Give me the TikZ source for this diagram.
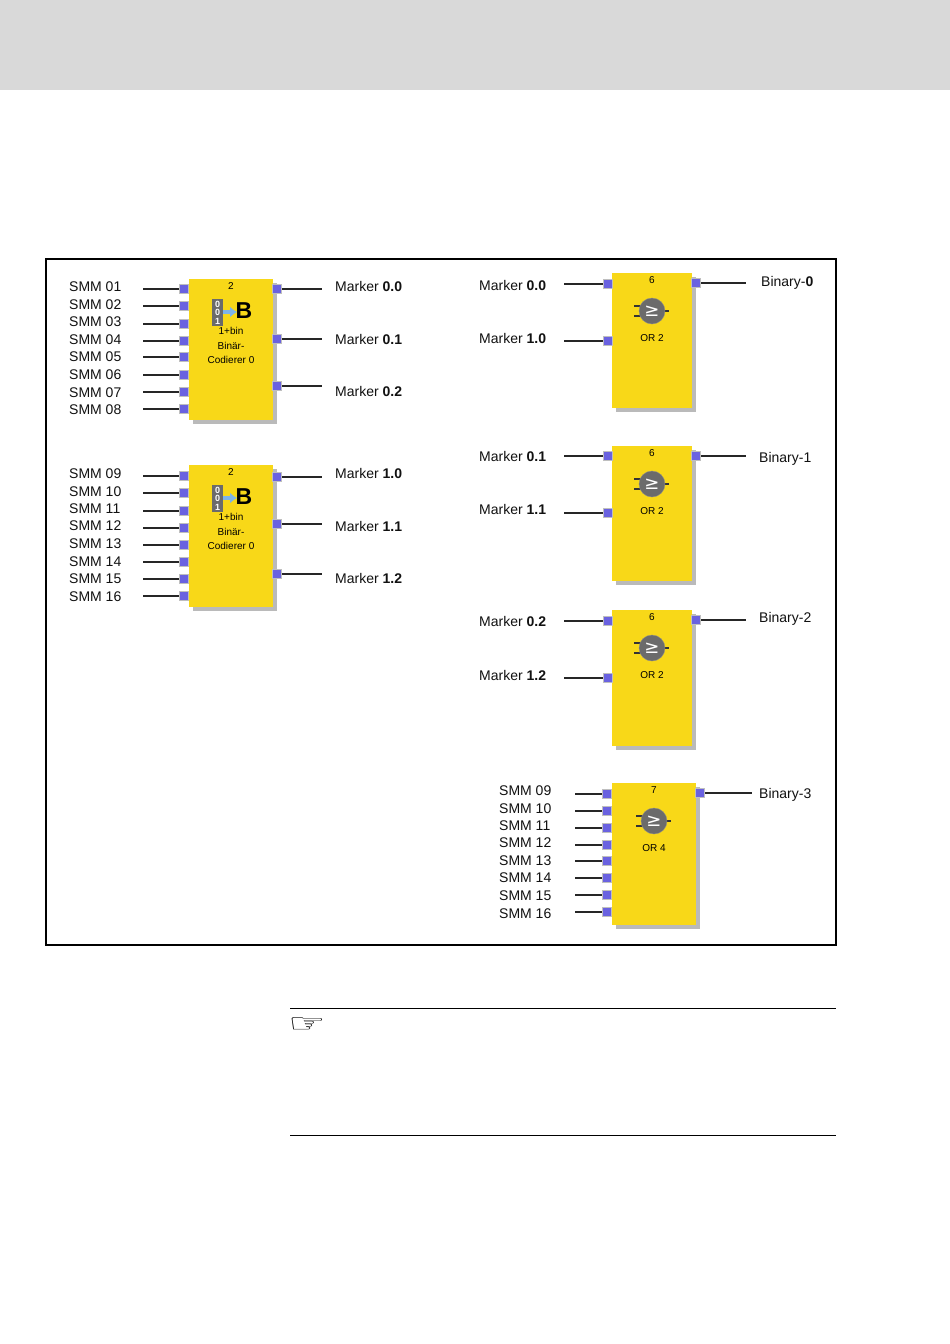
\documentclass[tikz,border=0pt]{standalone}
\usepackage{fontspec}
\setmainfont{Liberation Sans}
\newfontfamily\djv{DejaVu Sans}
\usetikzlibrary{shadows,arrows.meta}
\definecolor{blockyellow}{HTML}{F8D818}
\definecolor{pinblue}{HTML}{6A62E0}
\definecolor{labelink}{HTML}{111111}
\definecolor{iconblue}{HTML}{7FB4E8}
\definecolor{icongray}{HTML}{6B6B6B}
\tikzset{
  block/.style={rectangle,fill=blockyellow,draw=none,inner sep=0pt,anchor=north west,
    drop shadow={shadow xshift=4pt,shadow yshift=-4pt,fill=black!27,opacity=1}},
  pinbox/.style={rectangle,fill=pinblue,draw=black!25,line width=1pt,minimum width=9pt,minimum height=9pt,inner sep=0pt},
  wire/.style={draw=black!85,line width=1.1pt},
  lab/.style={text=labelink,font=\fontsize{14}{14}\selectfont,anchor=west,inner sep=0pt,yshift=-.5pt},
  small/.style={text=black,font=\fontsize{10}{11}\selectfont,inner sep=0pt,align=center},
  rulee/.style={draw=black,line width=.8pt},
}
% \portin{name}{text}{label x}{label y}{wire x}{pin x}{pin y}
\newcommand{\portin}[7]{%
  \node[lab] (#1t) at (#3,#4) {#2};
  \node[pinbox] (#1) at (#6,#7) {};
  \coordinate (#1c) at (#5,#7);
  \draw[wire] (#1c) -- (#1.west);}
% \portout{name}{text}{label x}{label y}{wire x}{pin x}{pin y}
\newcommand{\portout}[7]{%
  \node[lab] (#1t) at (#3,#4) {#2};
  \node[pinbox] (#1) at (#6,#7) {};
  \coordinate (#1c) at (#5,#7);
  \draw[wire] (#1.east) -- (#1c);}
% binary coder icon and texts: centre x, top y
\newcommand{\binicon}[3]{%
  \node[small] (#1n) at (#2,#3+7) {2};
  \fill[icongray] (#2-19,#3+20) rectangle (#2-8,#3+47);
  \node[small,text=white,font=\fontsize{9}{9}\selectfont\bfseries] (#1a) at (#2-13.5,#3+25) {0};
  \node[small,text=white,font=\fontsize{9}{9}\selectfont\bfseries] (#1b) at (#2-13.5,#3+33) {0};
  \node[small,text=white,font=\fontsize{9}{9}\selectfont\bfseries] (#1d) at (#2-13.5,#3+42) {1};
  \draw[iconblue,line width=4pt,-{Latex[length=7pt,width=11pt]}] (#2-8,#3+33) -- (#2+6,#3+33);
  \node[small,text=black,font=\fontsize{23}{23}\selectfont\bfseries] (#1e) at (#2+13,#3+32) {B};
  \node[small] (#1f) at (#2,#3+52) {1+bin};
  \node[small] (#1g) at (#2,#3+67) {Binär-};
  \node[small] (#1h) at (#2,#3+81) {Codierer 0};}
% OR icon: name, centre x, top y, number, caption
\newcommand{\oricon}[5]{%
  \node[small] (#1n) at (#2,#3+7) {#4};
  \draw[black!80,line width=2.4pt] (#2-18,#3+33) -- (#2-10,#3+33) (#2-18,#3+43) -- (#2-10,#3+43) (#2+10,#3+38) -- (#2+17,#3+38);
  \node[circle,fill=icongray,draw=black!45,minimum size=26pt,inner sep=0pt,text=white,font=\djv\fontsize{18}{18}\selectfont] (#1c) at (#2,#3+38) {≥};
  \node[small] (#1o) at (#2,#3+65) {#5};}
\begin{document}
\begin{tikzpicture}[x=1pt,y=-1pt]
\useasboundingbox (0,0) rectangle (950,1344);
\fill[white] (0,0) rectangle (950,1344);
\fill[black!15] (0,0) rectangle (950,90);
\draw[draw=black,line width=1.4pt] (46,259) rectangle (836,945);

% --- coder 1
\node[block,minimum width=84pt,minimum height=141pt] (c1) at (189,279) {};
\binicon{ci}{231}{279}
\foreach \n/\ly/\py in {01/286/289,02/304/306,03/321/324,04/339/341,05/356/357,06/374/375,07/392/392,08/409/409}
  {\portin{p\n}{SMM \n}{69}{\ly}{143}{184}{\py}}
\portout{m00}{Marker \textbf{0.0}}{335}{286}{322}{277}{289}
\portout{m01}{Marker \textbf{0.1}}{335}{339}{322}{277}{339}
\portout{m02}{Marker \textbf{0.2}}{335}{391}{322}{277}{386}

% --- coder 2
\node[block,minimum width=84pt,minimum height=142pt] (c2) at (189,465) {};
\binicon{cj}{231}{465}
\foreach \n/\ly/\py in {09/473/476,10/491/493,11/508/511,12/525/528,13/543/545,14/561/562,15/578/579,16/596/596}
  {\portin{q\n}{SMM \n}{69}{\ly}{143}{184}{\py}}
\portout{m10}{Marker \textbf{1.0}}{335}{473}{322}{277}{477}
\portout{m11}{Marker \textbf{1.1}}{335}{526}{322}{277}{524}
\portout{m12}{Marker \textbf{1.2}}{335}{578}{322}{277}{574}

% --- OR 2 blocks
\node[block,minimum width=80pt,minimum height=135pt] (o1) at (612,273) {};
\oricon{oa}{652}{273}{6}{OR 2}
\portin{a1}{Marker \textbf{0.0}}{479}{285}{564}{608}{284}
\portin{a2}{Marker \textbf{1.0}}{479}{338}{564}{608}{341}
\portout{b0}{Binary-\textbf{0}}{761}{282}{746}{696}{283}

\node[block,minimum width=80pt,minimum height=135pt] (o2) at (612,446) {};
\oricon{ob}{652}{446}{6}{OR 2}
\portin{a3}{Marker \textbf{0.1}}{479}{456}{564}{608}{456}
\portin{a4}{Marker \textbf{1.1}}{479}{509}{564}{608}{513}
\portout{b1}{Binary-1}{759}{458}{746}{696}{456}

\node[block,minimum width=80pt,minimum height=136pt] (o3) at (612,610) {};
\oricon{oc}{652}{610}{6}{OR 2}
\portin{a5}{Marker \textbf{0.2}}{479}{621}{564}{608}{621}
\portin{a6}{Marker \textbf{1.2}}{479}{675}{564}{608}{678}
\portout{b2}{Binary-2}{759}{618}{746}{696}{620}

% --- OR 4 block
\node[block,minimum width=84pt,minimum height=142pt] (o4) at (612,783) {};
\oricon{od}{654}{783}{7}{OR 4}
\foreach \n/\ly/\py in {09/790/794,10/808/811,11/825/828,12/842/845,13/860/861,14/877/878,15/895/895,16/913/912}
  {\portin{r\n}{SMM \n}{499}{\ly}{575}{607}{\py}}
\portout{b3}{Binary-3}{759}{794}{752}{700}{793}

% --- note
\coordinate (n1) at (290,1008);
\coordinate (n2) at (836,1008);
\coordinate (n3) at (290,1135);
\coordinate (n4) at (836,1135);
\draw[rulee] (n1) -- (n2);
\draw[rulee] (n3) -- (n4);
\node[anchor=west,inner sep=0pt,text=black,yscale=.62,transform shape,font=\djv\fontsize{42}{42}\selectfont\bfseries] (hand) at (288,1025) {☞};
\end{tikzpicture}
\end{document}
